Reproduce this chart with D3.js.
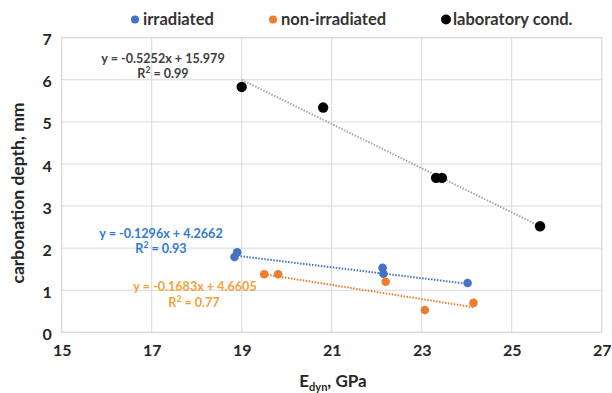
<!DOCTYPE html>
<html><head><meta charset="utf-8">
<script src="https://cdn.jsdelivr.net/npm/d3@7"></script>
<style>body{margin:0;background:#fff}</style>
</head><body>
<svg id="c" width="612" height="393"></svg>
<script>
const xTicks = [15,17,19,21,23,25,27];
const yTicks = [0,1,2,3,4,5,6,7];
const irrX = [18.84, 18.9, 22.13, 22.15, 24.02];
const irrY = [1.79, 1.90, 1.53, 1.39, 1.17];
const nonX = [19.5, 19.81, 22.2, 23.07, 24.15];
const nonY = [1.38, 1.38, 1.20, 0.53, 0.70];
const labX = [19.0, 20.81, 23.32, 23.45, 25.63];
const labY = [5.83, 5.34, 3.67, 3.67, 2.52];
const seriesNames = ["irradiated","non-irradiated","laboratory cond."];
const slopes = [-0.1296, -0.1683, -0.5252];
const intercepts = [4.2662, 4.6605, 15.979];
const eqText = ["y = -0.1296x + 4.2662","y = -0.1683x + 4.6605","y = -0.5252x + 15.979"];
const r2Text = ["0.93","0.77","0.99"];

const colors = ["#4472C4","#ED7D31","#000000"];
const trendColors = ["#4472C4","#ED7D31","#a6a6a6"];
const eqColors = ["#2e7bd1","#f4a23c","#404040"];
const svg = d3.select("#c");
const font = "Lato, 'Open Sans', sans-serif";
const x = d3.scaleLinear().domain([15,27]).range([61.7,601.7]);
const y = d3.scaleLinear().domain([0,7]).range([332.3,37.7]);

// gridlines
svg.append("g").selectAll("line").data(yTicks).join("line")
  .attr("x1",x(15)).attr("x2",x(27)).attr("y1",d=>y(d)).attr("y2",d=>y(d))
  .attr("stroke","#d9d9d9").attr("stroke-width",1);
svg.append("g").selectAll("line").data(xTicks).join("line")
  .attr("y1",y(0)).attr("y2",y(7)).attr("x1",d=>x(d)).attr("x2",d=>x(d))
  .attr("stroke","#d9d9d9").attr("stroke-width",1);

// axes labels
const xAxis = d3.axisBottom(x).tickValues(xTicks).tickFormat(d3.format("d")).tickSize(0).tickPadding(12);
const gx = svg.append("g").attr("transform",`translate(0,${y(0)})`).call(xAxis);
gx.select(".domain").remove();
gx.selectAll("text").attr("font-family",font).attr("font-weight","bold").attr("font-size",16).attr("fill","#262626");
const yAxis = d3.axisLeft(y).tickValues(yTicks).tickFormat(d3.format("d")).tickSize(0).tickPadding(10);
const gy = svg.append("g").attr("transform",`translate(${x(15)},2)`).call(yAxis);
gy.select(".domain").remove();
gy.selectAll("text").attr("font-family",font).attr("font-weight","bold").attr("font-size",16).attr("fill","#262626");

// axis titles
svg.append("text").attr("transform",`translate(24,${193}) rotate(-90)`)
  .attr("text-anchor","middle").attr("font-family",font).attr("font-weight","bold")
  .attr("font-size",17.5).attr("fill","#262626").text("carbonation depth, mm");
const xt = svg.append("text").attr("x",333).attr("y",387).attr("text-anchor","middle")
  .attr("font-family",font).attr("font-weight","bold").attr("font-size",17).attr("fill","#262626");
xt.append("tspan").text("E");
xt.append("tspan").attr("font-size",11).attr("dy",4).text("dyn");
xt.append("tspan").attr("dy",-4).text(", GPa");

const data = [[irrX,irrY],[nonX,nonY],[labX,labY]];
// trendlines
data.forEach((s,i)=>{
  const x0 = d3.min(s[0]), x1 = d3.max(s[0]);
  svg.append("line").attr("x1",x(x0)).attr("x2",x(x1))
    .attr("y1",y(slopes[i]*x0+intercepts[i])).attr("y2",y(slopes[i]*x1+intercepts[i]))
    .attr("stroke",trendColors[i]).attr("stroke-width",2).attr("stroke-dasharray","1.5,1.5");
});
// points
data.forEach((s,i)=>{
  svg.append("g").selectAll("circle").data(s[0].map((v,k)=>[v,s[1][k]])).join("circle")
    .attr("cx",d=>x(d[0])).attr("cy",d=>y(d[1])).attr("r",i===2?5.2:4.3)
    .attr("fill",colors[i]);
});

// equations
const eqPos = [[161,238,161,253],[195,291,194,306.5],[163,63,163,78]];
eqPos.forEach((p,i)=>{
  svg.append("text").attr("x",p[0]).attr("y",p[1]).attr("text-anchor","middle")
    .attr("font-family",font).attr("font-weight","bold").attr("font-size",12.6)
    .attr("fill",eqColors[i]).text(eqText[i]);
  const t = svg.append("text").attr("x",p[2]).attr("y",p[3]).attr("text-anchor","middle")
    .attr("font-family",font).attr("font-weight","bold").attr("font-size",12.6).attr("fill",eqColors[i]);
  t.append("tspan").text("R");
  t.append("tspan").attr("font-size",8.5).attr("dy",-5).text("2");
  t.append("tspan").attr("dy",5).text(" = " + r2Text[i]);
});

// legend
const legX = [135, 273, 446];
seriesNames.forEach((n,i)=>{
  svg.append("circle").attr("cx",legX[i]).attr("cy",19.5).attr("r",i===2?5:4).attr("fill",colors[i]);
  svg.append("text").attr("x",legX[i]+(i===2?7:8)).attr("y",25).attr("font-family",font)
    .attr("font-weight","bold").attr("font-size",16.5).attr("fill","#333").text(n);
});
// plot border
svg.append("rect").attr("x",x(15)).attr("y",y(7)).attr("width",x(27)-x(15)).attr("height",y(0)-y(7))
  .attr("fill","none").attr("stroke","#d9d9d9");
</script>
</body></html>
